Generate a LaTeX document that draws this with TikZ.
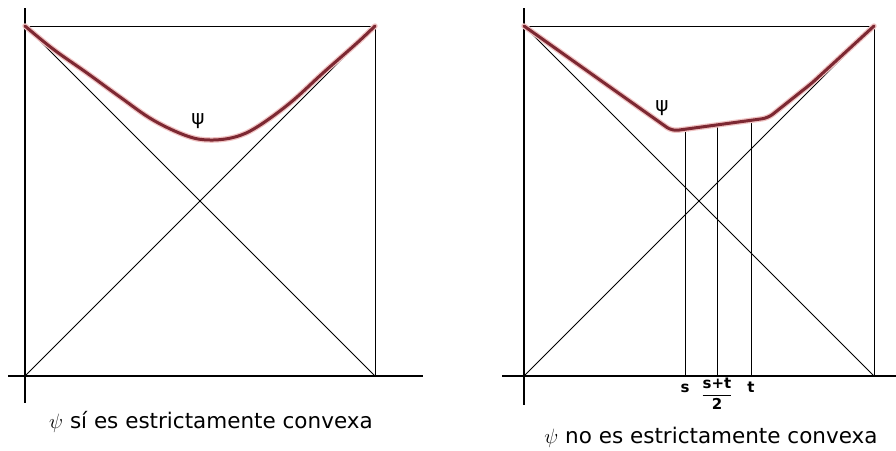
\documentclass[tikz,border=0pt]{standalone}
\usepackage{amsmath}
\usepackage{fontspec}
\setmainfont{DejaVu Sans}
\definecolor{curvecol}{RGB}{125,40,50}
\definecolor{halocol}{RGB}{240,195,195}
\begin{document}
\begin{tikzpicture}[x=1pt,y=-1pt,
  axis/.style={black,line width=1.1pt},
  thin line/.style={black,line width=0.8pt},
  halo/.style={halocol,line width=5.5pt,line cap=round,line join=round},
  psicurve/.style={curvecol,line width=3pt,line cap=round,line join=round},
  caption/.style={font=\fontsize{21.5}{26}\selectfont,inner sep=0pt},
  psilab/.style={font=\fontsize{20}{22}\selectfont,inner sep=0pt},
  ticklab/.style={font=\bfseries\fontsize{15}{17}\selectfont,inner sep=0pt}]
\useasboundingbox (0,0) rectangle (896,450);
% ---------- left panel ----------
\coordinate (LyT) at (25,8);
\coordinate (LyB) at (25,403);
\coordinate (LxL) at (8,376);
\coordinate (LxR) at (423,376);
\coordinate (LTL) at (25,26);
\coordinate (LTR) at (375,26);
\coordinate (LBL) at (25,376);
\coordinate (LBR) at (375,376);
\draw[axis] (LyT) -- (LyB);
\draw[axis] (LxL) -- (LxR);
\draw[thin line] (LTL) -- (LTR) -- (LBR);
\draw[thin line] (LTL) -- (LBR);
\draw[thin line] (LTR) -- (LBL);
\foreach \st in {halo,psicurve}
  \draw[\st] plot[smooth,tension=0.6] coordinates {(25,26) (53,49) (87,73) (120,97) (153,120) (187,136) (210,140) (235,137) (257,127) (290,103) (323,73) (357,43) (375,26)};
\node[psilab] (lpsi) at (198,121) {ψ};
\node[caption] (lcap) at (211,422) {$\psi$ sí es estrictamente convexa};
% ---------- right panel ----------
\coordinate (RyT) at (524,8);
\coordinate (RyB) at (524,405);
\coordinate (RxL) at (502,376);
\coordinate (RxR) at (896,376);
\coordinate (RTL) at (524,26);
\coordinate (RTR) at (874,26);
\coordinate (RBL) at (524,376);
\coordinate (RBR) at (874,376);
\draw[axis] (RyT) -- (RyB);
\draw[axis] (RxL) -- (RxR);
\draw[thin line] (RTL) -- (RTR) -- (RBR);
\draw[thin line] (RTL) -- (RBR);
\draw[thin line] (RTR) -- (RBL);
\coordinate (sTop) at (685,129.2);
\coordinate (mTop) at (717,124.9);
\coordinate (tTop) at (751,120.3);
\coordinate (sBot) at (685,376);
\coordinate (mBot) at (717,376);
\coordinate (tBot) at (751,376);
\draw[thin line] (sTop) -- (sBot);
\draw[thin line] (mTop) -- (mBot);
\draw[thin line] (tTop) -- (tBot);
\foreach \st in {halo,psicurve}
  \draw[\st,rounded corners=6pt] (RTL) -- (600,80) -- (672,131) -- (768,118) -- (812,83) -- (RTR);
\node[psilab] (rpsi) at (662,108) {ψ};
\node[ticklab] (slab) at (685,388) {s};
\node[ticklab] (mlab) at (717,394) {$\genfrac{}{}{1pt}{0}{\hbox{s+t}}{\hbox{2}}$};
\node[ticklab] (tlab) at (751,387) {t};
\node[caption] (rcap) at (711,437) {$\psi$ no es estrictamente convexa};
\end{tikzpicture}
\end{document}
